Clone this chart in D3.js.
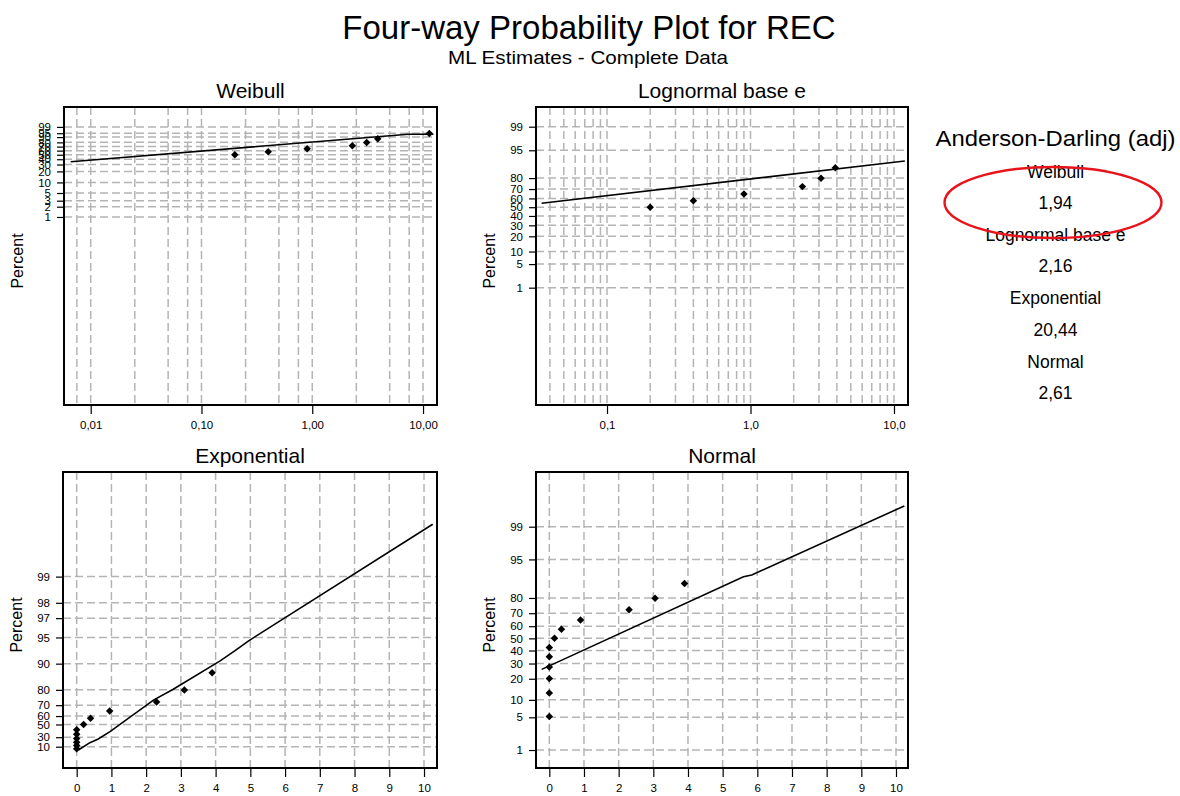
<!DOCTYPE html>
<html>
<head>
<meta charset="utf-8">
<script src="https://cdn.jsdelivr.net/npm/d3@7"></script>
<style>
  body { margin: 0; background: #fff; }
  svg { display: block; }
  text { font-family: "Liberation Sans", Arial, Helvetica, sans-serif; fill: #000; }
</style>
</head>
<body>
<svg id="chart" width="1180" height="796"></svg>
<script>
// ---- Chart text ----
const chartTitle = "Four-way Probability Plot for REC";
const chartSubtitle = "ML Estimates - Complete Data";
const adHeading = "Anderson-Darling (adj)";
const adNames = ["Weibull", "Lognormal base e", "Exponential", "Normal"];
const adValues = [1.94, 2.16, 20.44, 2.61];

// ---- Weibull panel ----
const weibullTimes = [0.2, 0.4, 0.9, 2.3, 3.1, 3.9, 11.4];
const weibullPct = [50.0, 57.5, 64.9, 72.4, 79.9, 87.3, 94.8];
const weibullFitTime = [0.0066, 7.35, 12.4];
const weibullFitPct = [35.1, 93.9, 93.9];
const weibullXTicks = [0.01, 0.1, 1, 10];
const weibullXLabels = ["0,01", "0,10", "1,00", "10,00"];
const weibullXGrid = [0.0075, 0.01, 0.025, 0.05, 0.075, 0.1, 0.25, 0.5, 0.75, 1, 2.5, 5, 7.5, 10];
const weibullYTicks = [1, 2, 3, 5, 10, 20, 30, 40, 50, 60, 70, 80, 90, 95, 99];

// ---- Lognormal panel ----
const lognormalTimes = [0.2, 0.4, 0.9, 2.3, 3.1, 3.9];
const lognormalPct = [50.0, 57.5, 64.9, 72.4, 79.9, 87.3];
const lognormalFitTime = [0.035, 11.9];
const lognormalFitPct = [54.5, 90.9];
const lognormalXTicks = [0.1, 1, 10];
const lognormalXLabels = ["0,1", "1,0", "10,0"];
const lognormalXGrid = [0.04, 0.05, 0.06, 0.07, 0.08, 0.09, 0.1, 0.2, 0.3, 0.4, 0.5, 0.6, 0.7, 0.8, 0.9,
                        1, 2, 3, 4, 5, 6, 7, 8, 9, 10];
const lognormalYTicks = [1, 5, 10, 20, 30, 40, 50, 60, 70, 80, 95, 99];

// ---- Exponential panel ----
const expoTimes = [0, 0, 0, 0, 0, 0, 0.2, 0.4, 0.95, 2.3, 3.1, 3.9];
const expoPct = [5.2, 12.7, 20.1, 27.6, 35.1, 42.5, 50.0, 57.5, 64.9, 72.4, 79.9, 87.3];
const expoFitTime = [0.05, 0.38, 0.62, 0.96, 2.21, 2.78, 4.13, 4.56, 4.94, 10.25];
const expoFitPct = [1.8, 19.1, 26.6, 39.5, 73.8, 80.3, 90.7, 92.9, 94.5, 99.75];
const expoXTicks = [0, 1, 2, 3, 4, 5, 6, 7, 8, 9, 10];
const expoYTicks = [10, 30, 50, 60, 70, 80, 90, 95, 97, 98, 99];

// ---- Normal panel ----
const normalTimes = [0, 0, 0, 0, 0, 0, 0.15, 0.35, 0.9, 2.3, 3.05, 3.9];
const normalPct = [5.2, 12.7, 20.1, 27.6, 35.1, 42.5, 50.0, 57.5, 64.9, 72.4, 79.9, 87.3];
const normalFitTime = [-0.22, 5.6, 5.84, 10.24];
const normalFitPct = [25.9, 90.04, 90.66, 99.71];
const normalXTicks = [0, 1, 2, 3, 4, 5, 6, 7, 8, 9, 10];
const normalYTicks = [1, 5, 10, 20, 30, 40, 50, 60, 70, 80, 95, 99];

// ---- Probability-paper transforms ----
function probit(p) {
  const a = [-3.969683028665376e+01, 2.209460984245205e+02, -2.759285104469687e+02,
             1.383577518672690e+02, -3.066479806614716e+01, 2.506628277459239e+00];
  const b = [-5.447609879822406e+01, 1.615858368580409e+02, -1.556989798598866e+02,
             6.680131188771972e+01, -1.328068155288572e+01];
  const c = [-7.784894002430293e-03, -3.223964580411365e-01, -2.400758277161838e+00,
             -2.549732539343734e+00, 4.374664141464968e+00, 2.938163982698783e+00];
  const d = [7.784695709041462e-03, 3.224671290700398e-01, 2.445134137142996e+00,
             3.754408361175981e+00];
  const pl = 0.02425, ph = 1 - pl;
  let q, r;
  if (p < pl) {
    q = Math.sqrt(-2 * Math.log(p));
    return (((((c[0]*q+c[1])*q+c[2])*q+c[3])*q+c[4])*q+c[5]) / ((((d[0]*q+d[1])*q+d[2])*q+d[3])*q+1);
  }
  if (p <= ph) {
    q = p - 0.5; r = q * q;
    return (((((a[0]*r+a[1])*r+a[2])*r+a[3])*r+a[4])*r+a[5])*q / (((((b[0]*r+b[1])*r+b[2])*r+b[3])*r+b[4])*r+1);
  }
  q = Math.sqrt(-2 * Math.log(1 - p));
  return -(((((c[0]*q+c[1])*q+c[2])*q+c[3])*q+c[4])*q+c[5]) / ((((d[0]*q+d[1])*q+d[2])*q+d[3])*q+1);
}
const weibit = pct => Math.log(-Math.log(1 - pct / 100));
const zScore = pct => probit(pct / 100);
const expScore = pct => -Math.log(1 - pct / 100);

const svg = d3.select("#chart");
const zip = (a, b) => a.map((v, i) => [v, b[i]]);

function drawPanel(o) {
  const [x0, x1, y0, y1] = o.box;
  const x = o.xScale.range([x0, x1]);
  const yLin = d3.scaleLinear().domain(o.yDomain).range([y1, y0]);
  const y = pct => yLin(o.tf(pct));
  const g = svg.append("g");

  const clipId = "clip-" + o.id;
  svg.append("clipPath").attr("id", clipId)
    .append("rect").attr("x", x0).attr("y", y0).attr("width", x1 - x0).attr("height", y1 - y0);

  // dashed grid
  const grid = g.append("g").attr("clip-path", `url(#${clipId})`)
    .attr("stroke", "#b4b4b4").attr("stroke-width", 1.5).attr("stroke-dasharray", "8,4");
  grid.selectAll("line.v").data(o.xGrid).join("line").attr("class", "v")
    .attr("x1", d => x(d)).attr("x2", d => x(d)).attr("y1", y0).attr("y2", y1);
  grid.selectAll("line.h").data(o.yTicks).join("line").attr("class", "h")
    .attr("x1", x0).attr("x2", x1).attr("y1", d => y(d)).attr("y2", d => y(d));

  // fitted distribution line
  g.append("path").datum(zip(o.fitX, o.fitP))
    .attr("clip-path", `url(#${clipId})`)
    .attr("fill", "none").attr("stroke", "#000").attr("stroke-width", 1.6)
    .attr("d", d3.line().x(d => x(d[0])).y(d => y(d[1])));

  // observations
  g.selectAll("path.pt").data(zip(o.ptsX, o.ptsP)).join("path").attr("class", "pt")
    .attr("d", d3.symbol(d3.symbolSquare, 28))
    .attr("fill", "#000")
    .attr("transform", d => `translate(${x(d[0])},${y(d[1])}) rotate(45)`);

  // frame
  g.append("rect").attr("x", x0).attr("y", y0).attr("width", x1 - x0).attr("height", y1 - y0)
    .attr("fill", "none").attr("stroke", "#000").attr("stroke-width", 2);

  // axes
  const xAxis = d3.axisBottom(x).tickValues(o.xTicks).tickSize(9).tickPadding(7)
    .tickFormat((d, i) => o.xLabels ? o.xLabels[i] : String(d));
  g.append("g").attr("transform", `translate(0,${y1})`).call(xAxis)
    .call(a => a.select(".domain").remove())
    .call(a => a.selectAll("text").attr("font-size", 11.5).attr("font-family", null))
    .call(a => a.selectAll("line").attr("stroke-width", 1.2));

  const yAxis = d3.axisLeft(yLin).tickValues(o.yTicks.map(o.tf)).tickSize(7).tickPadding(6)
    .tickFormat((d, i) => String(o.yTicks[i]));
  g.append("g").attr("transform", `translate(${x0},0)`).call(yAxis)
    .call(a => a.select(".domain").remove())
    .call(a => a.selectAll("text").attr("font-size", 11.5).attr("font-family", null))
    .call(a => a.selectAll("line").attr("stroke-width", 1.2));

  // titles
  g.append("text").attr("x", (x0 + x1) / 2).attr("y", y0 - 9)
    .attr("text-anchor", "middle").attr("font-size", 21).text(o.title);
  g.append("text").attr("transform", `translate(${x0 - 41},${o.percentY}) rotate(-90)`)
    .attr("text-anchor", "middle").attr("font-size", 16).text("Percent");
}

drawPanel({
  id: "weibull", title: "Weibull", box: [64, 437, 107, 405], percentY: 261,
  xScale: d3.scaleLog().domain([0.00574, 13.37]), tf: weibit, yDomain: [-17.39, 2.881],
  xGrid: weibullXGrid, xTicks: weibullXTicks, xLabels: weibullXLabels, yTicks: weibullYTicks,
  ptsX: weibullTimes, ptsP: weibullPct, fitX: weibullFitTime, fitP: weibullFitPct
});
drawPanel({
  id: "lognormal", title: "Lognormal base e", box: [536, 908, 107, 405], percentY: 261,
  xScale: d3.scaleLog().domain([0.032, 12.52]), tf: zScore, yDomain: [-5.717, 2.896],
  xGrid: lognormalXGrid, xTicks: lognormalXTicks, xLabels: lognormalXLabels, yTicks: lognormalYTicks,
  ptsX: lognormalTimes, ptsP: lognormalPct, fitX: lognormalFitTime, fitP: lognormalFitPct
});
drawPanel({
  id: "exponential", title: "Exponential", box: [63, 437, 472, 768], percentY: 625,
  xScale: d3.scaleLinear().domain([-0.394, 10.374]), tf: expScore, yDomain: [-0.458, 7.373],
  xGrid: expoXTicks, xTicks: expoXTicks, xLabels: null, yTicks: expoYTicks,
  ptsX: expoTimes, ptsP: expoPct, fitX: expoFitTime, fitP: expoFitPct
});
drawPanel({
  id: "normal", title: "Normal", box: [536, 908, 472, 768], percentY: 625,
  xScale: d3.scaleLinear().domain([-0.384, 10.346]), tf: zScore, yDomain: [-2.701, 3.466],
  xGrid: normalXTicks, xTicks: normalXTicks, xLabels: null, yTicks: normalYTicks,
  ptsX: normalTimes, ptsP: normalPct, fitX: normalFitTime, fitP: normalFitPct
});

// main titles
svg.append("text").attr("x", 589).attr("y", 39).attr("text-anchor", "middle")
  .attr("font-size", 33).text(chartTitle);
svg.append("text").attr("x", 588).attr("y", 64).attr("text-anchor", "middle")
  .attr("font-size", 18.5).attr("textLength", 280).attr("lengthAdjust", "spacingAndGlyphs")
  .text(chartSubtitle);

// goodness-of-fit table
const adX = 1055.5;
svg.append("text").attr("x", adX).attr("y", 146).attr("text-anchor", "middle")
  .attr("font-size", 22).attr("textLength", 240).attr("lengthAdjust", "spacingAndGlyphs")
  .text(adHeading);
const fmtComma = v => d3.format(".2f")(v).replace(".", ",");
adNames.forEach((name, i) => {
  svg.append("text").attr("x", adX).attr("y", 177.5 + i * 63.4).attr("text-anchor", "middle")
    .attr("font-size", 17.5).text(name);
  svg.append("text").attr("x", adX).attr("y", 209 + i * 63.4).attr("text-anchor", "middle")
    .attr("font-size", 17.5).text(fmtComma(adValues[i]));
});

// highlight around the Weibull result
svg.append("ellipse").attr("cx", 1053).attr("cy", 202.5).attr("rx", 108.5).attr("ry", 35.5)
  .attr("fill", "none").attr("stroke", "#e8141b").attr("stroke-width", 2.4);
</script>
</body>
</html>
